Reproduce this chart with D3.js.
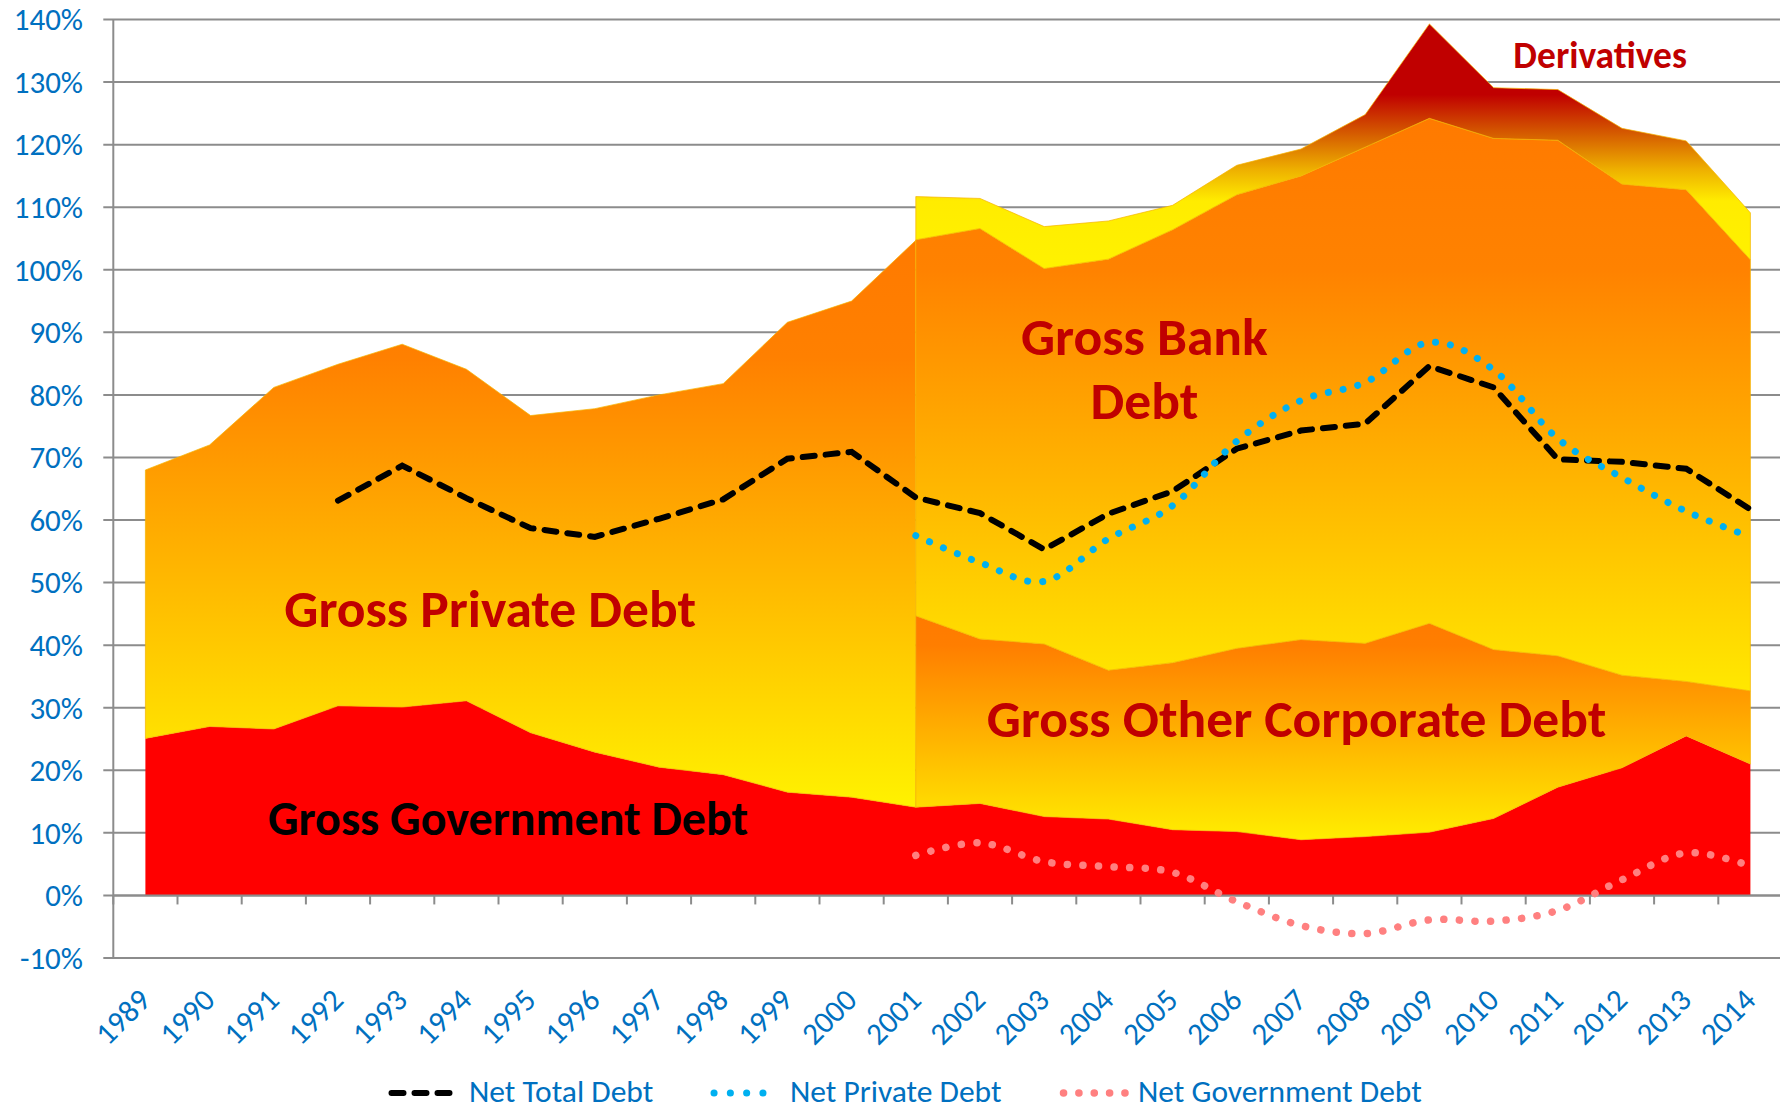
<!DOCTYPE html>
<html lang="en">
<head>
  <meta charset="utf-8">
  <title>Gross and net debt</title>
  <script src="https://d3js.org/d3.v7.min.js"></script>
</head>
<style>
body { margin: 0; background: #fff; }
svg { display: block; }
svg text { font-family: Carlito, Calibri, Lato, sans-serif; }
.grid { stroke: #8c8c8c; stroke-width: 2; }
.tick-label { fill: #0070C0; font-size: 31px; }
.legend-label { fill: #0070C0; font-size: 31.5px; }
.area-label { font-weight: bold; fill: #C00000; }
</style>
<body>
  <div class="chart"></div>

  <script type="text/javascript">
  // categories
  var years = [1989, 1990, 1991, 1992, 1993, 1994, 1995, 1996, 1997, 1998, 1999, 2000, 2001,
               2002, 2003, 2004, 2005, 2006, 2007, 2008, 2009, 2010, 2011, 2012, 2013, 2014];
  var earlyYears = [1989, 1990, 1991, 1992, 1993, 1994, 1995, 1996, 1997, 1998, 1999, 2000, 2001];
  var lateYears = [2001, 2002, 2003, 2004, 2005, 2006, 2007, 2008, 2009, 2010, 2011, 2012, 2013, 2014];
  var netTotalYears = [1992, 1993, 1994, 1995, 1996, 1997, 1998, 1999, 2000, 2001, 2002, 2003,
                       2004, 2005, 2006, 2007, 2008, 2009, 2010, 2011, 2012, 2013, 2014];

  // stacked gross debt (% of GDP)
  var govDebt = [25.1, 27.0, 26.6, 30.3, 30.1, 31.1, 26.0, 22.9, 20.5, 19.3, 16.5, 15.7, 14.1,
                 14.7, 12.6, 12.2, 10.5, 10.2, 8.9, 9.4, 10.1, 12.3, 17.3, 20.4, 25.5, 21.0];
  var privateDebt = [42.9, 45.0, 54.6, 54.6, 58.0, 53.0, 50.7, 54.9, 59.5, 62.5, 75.1, 79.3, 90.6];
  var otherCorpDebt = [30.6, 26.3, 27.6, 23.8, 26.7, 29.3, 32.0, 30.9, 33.4, 27.0, 21.0, 14.8, 8.7, 11.7];
  var bankDebt = [60.1, 65.6, 60.0, 65.7, 69.2, 72.5, 74.1, 79.3, 80.7, 81.7, 82.4, 78.5, 78.6, 68.9];
  var derivatives = [6.9, 4.8, 6.7, 6.1, 3.9, 4.7, 4.3, 5.2, 15.1, 8.1, 8.1, 8.9, 7.8, 7.5];

  // net debt lines
  var netTotalDebt = [63.1, 68.7, 63.5, 58.7, 57.3, 60.2, 63.3, 69.8, 70.9, 63.6, 61.1, 55.3,
                      61.0, 64.6, 71.4, 74.3, 75.4, 84.6, 81.2, 69.7, 69.3, 68.2, 61.7];
  var netPrivateDebt = [57.5, 53.2, 50.2, 57.0, 62.3, 72.6, 79.1, 82.0, 88.4, 84.0, 73.0, 66.8, 61.4, 57.3];
  var netGovDebt = [6.4, 8.4, 5.4, 4.6, 3.7, -1.0, -4.8, -6.1, -3.9, -4.1, -2.4, 2.5, 6.8, 4.7];

  var yTicks = [-10, 0, 10, 20, 30, 40, 50, 60, 70, 80, 90, 100, 110, 120, 130, 140];

  var width = 1780, height = 1112;
  var plot = {left: 113.3, right: 1782.5, top: 19.5, bottom: 958};

  var svg = d3.select(".chart").append("svg")
    .attr("width", width)
    .attr("height", height);

  var x = d3.scalePoint().domain(years).range([plot.left, plot.right]).padding(0.5);
  var y = d3.scaleLinear().domain([-10, 140]).range([plot.bottom, plot.top]);
  var step = x.step();
  var xAt = function(yr) { return x(1989) + (yr - 1989) * step; };

  // gradients
  var defs = svg.append("defs");
  var makeGradient = function(id, stops) {
    var g = defs.append("linearGradient")
      .attr("id", id)
      .attr("gradientUnits", "userSpaceOnUse")
      .attr("x1", 0).attr("x2", 0)
      .attr("y1", y(stops[0][0]))
      .attr("y2", y(stops[stops.length - 1][0]));
    var top = stops[0][0], bottom = stops[stops.length - 1][0];
    stops.forEach(function(s) {
      g.append("stop")
        .attr("offset", (top - s[0]) / (top - bottom))
        .attr("stop-color", s[1]);
    });
  };

  // grid lines
  svg.append("g").selectAll("line")
    .data(yTicks)
    .enter().append("line")
    .attr("class", "grid")
    .attr("x1", plot.left - 10)
    .attr("x2", width)
    .attr("y1", function(d) { return y(d); })
    .attr("y2", function(d) { return y(d); });

  svg.append("line")
    .attr("class", "grid")
    .attr("x1", plot.left).attr("x2", plot.left)
    .attr("y1", y(140)).attr("y2", y(-10));

  // stacks
  var earlyRows = earlyYears.map(function(yr, i) {
    return {year: yr, gov: govDebt[i], priv: privateDebt[i]};
  });
  var lateRows = lateYears.map(function(yr, i) {
    return {year: yr, gov: govDebt[years.indexOf(yr)], other: otherCorpDebt[i],
            bank: bankDebt[i], deriv: derivatives[i]};
  });
  var earlyStack = d3.stack().keys(["gov", "priv"])(earlyRows);
  var lateStack = d3.stack().keys(["gov", "other", "bank", "deriv"])(lateRows);

  var layerTop = function(layer) { return d3.max(layer, function(d) { return d[1]; }); };
  var layerBottom = function(layer) { return d3.min(layer, function(d) { return d[0]; }); };

  var privL = earlyStack[1], otherL = lateStack[1], bankL = lateStack[2], derivL = lateStack[3];
  makeGradient("g-priv", [[layerTop(privL), "#FF7A00"], [86, "#FF8000"], [layerBottom(privL), "#FFF200"]]);
  makeGradient("g-other", [[layerTop(otherL), "#FF7A00"], [40, "#FF7E00"], [layerBottom(otherL), "#FFEE00"]]);
  makeGradient("g-bank", [[layerTop(bankL), "#FF7A00"], [100, "#FF8200"], [layerBottom(bankL), "#FFE800"]]);
  makeGradient("g-deriv", [[layerTop(derivL), "#C00000"], [128, "#C00000"], [122, "#D45800"],
                           [116, "#EEB000"], [111, "#FFEC00"], [layerBottom(derivL), "#FFF200"]]);

  var area = d3.area()
    .x(function(d) { return x(d.data.year); })
    .y0(function(d) { return y(d[0]); })
    .y1(function(d) { return y(d[1]); });

  var govArea = d3.area()
    .x(function(d, i) { return x(years[i]); })
    .y0(y(0))
    .y1(function(d) { return y(d); });

  svg.append("path")
    .attr("d", govArea(govDebt))
    .attr("fill", "#FF0000");

  var layers = [[privL, "g-priv"], [otherL, "g-other"], [bankL, "g-bank"], [derivL, "g-deriv"]];
  svg.append("g").selectAll("path")
    .data(layers)
    .enter().append("path")
    .attr("d", function(d) { return area(d[0]); })
    .attr("fill", function(d) { return "url(#" + d[1] + ")"; })
    .attr("stroke", "#F5B400")
    .attr("stroke-width", 1)
    .attr("stroke-opacity", 0.7);

  // x axis at 0%
  svg.append("line")
    .attr("class", "grid")
    .attr("x1", plot.left).attr("x2", width)
    .attr("y1", y(0)).attr("y2", y(0));

  var boundaries = years.map(function(yr) { return x(yr) - step / 2; });
  boundaries.push(x(2014) + step / 2);
  svg.append("g").selectAll("line")
    .data(boundaries)
    .enter().append("line")
    .attr("class", "grid")
    .attr("x1", function(d) { return d; })
    .attr("x2", function(d) { return d; })
    .attr("y1", y(0))
    .attr("y2", y(0) + 9);

  // tick labels
  svg.append("g").selectAll("text")
    .data(yTicks)
    .enter().append("text")
    .attr("class", "tick-label")
    .attr("text-anchor", "end")
    .attr("x", 83)
    .attr("y", function(d) { return y(d); })
    .attr("dy", "0.35em")
    .text(function(d) { return d + "%"; });

  svg.append("g").selectAll("text")
    .data(years)
    .enter().append("text")
    .attr("class", "tick-label")
    .attr("text-anchor", "end")
    .attr("transform", function(d) { return "translate(" + (x(d) + 7) + "," + 1002 + ") rotate(-45)"; })
    .text(function(d) { return d; });

  // net lines
  var seriesLine = function(yrs, curve) {
    return d3.line()
      .x(function(d, i) { return x(yrs[i]); })
      .y(function(d) { return y(d); })
      .curve(curve);
  };

  svg.append("path")
    .attr("d", seriesLine(netTotalYears, d3.curveLinear)(netTotalDebt))
    .attr("fill", "none")
    .attr("stroke", "#000")
    .attr("stroke-width", 6)
    .attr("stroke-dasharray", "12,11")
    .attr("stroke-linecap", "round");

  svg.append("path")
    .attr("d", seriesLine(lateYears, d3.curveCatmullRom.alpha(0))(netPrivateDebt))
    .attr("fill", "none")
    .attr("stroke", "#00B0F0")
    .attr("stroke-width", 7)
    .attr("stroke-dasharray", "0.1,15")
    .attr("stroke-linecap", "round");

  svg.append("path")
    .attr("d", seriesLine(lateYears, d3.curveCatmullRom.alpha(0))(netGovDebt))
    .attr("fill", "none")
    .attr("stroke", "#FF8080")
    .attr("stroke-width", 7.5)
    .attr("stroke-dasharray", "0.1,15.5")
    .attr("stroke-linecap", "round");

  // area labels, anchored in data space
  var labels = [
    {text: "Gross Private Debt", year: 1994.37, value: 42.9, size: 53.5, color: "#C00000"},
    {text: "Gross Government Debt", year: 1994.65, value: 9.7, size: 48, color: "#000"},
    {text: "Gross Other Corporate Debt", year: 2006.93, value: 25.4, size: 53.5, color: "#C00000"},
    {text: "Gross Bank", year: 2004.56, value: 86.4, size: 53.5, color: "#C00000"},
    {text: "Debt", year: 2004.56, value: 76.2, size: 53.5, color: "#C00000"},
    {text: "Derivatives", year: 2011.66, value: 132.2, size: 37.5, color: "#C00000"}
  ];
  svg.append("g").selectAll("text")
    .data(labels)
    .enter().append("text")
    .attr("class", "area-label")
    .attr("text-anchor", "middle")
    .attr("x", function(d) { return xAt(d.year); })
    .attr("y", function(d) { return y(d.value); })
    .style("font-size", function(d) { return d.size + "px"; })
    .style("fill", function(d) { return d.color; })
    .text(function(d) { return d.text; });

  // legend
  var legendY = 1093;
  var legend = [
    {name: "Net Total Debt", x1: 391.5, x2: 450, tx: 469, color: "#000", w: 6, dash: "12,11"},
    {name: "Net Private Debt", x1: 714, x2: 779, tx: 790, color: "#00B0F0", w: 7, dash: "0.1,16.2"},
    {name: "Net Government Debt", x1: 1063.5, x2: 1125, tx: 1138, color: "#FF8080", w: 7.5, dash: "0.1,15.25"}
  ];
  var items = svg.append("g").selectAll("g")
    .data(legend)
    .enter().append("g");
  items.append("line")
    .attr("x1", function(d) { return d.x1; })
    .attr("x2", function(d) { return d.x2; })
    .attr("y1", legendY).attr("y2", legendY)
    .attr("stroke", function(d) { return d.color; })
    .attr("stroke-width", function(d) { return d.w; })
    .attr("stroke-dasharray", function(d) { return d.dash; })
    .attr("stroke-linecap", "round");
  items.append("text")
    .attr("class", "legend-label")
    .attr("x", function(d) { return d.tx; })
    .attr("y", 1102)
    .text(function(d) { return d.name; });
  </script>
</body>
</html>
